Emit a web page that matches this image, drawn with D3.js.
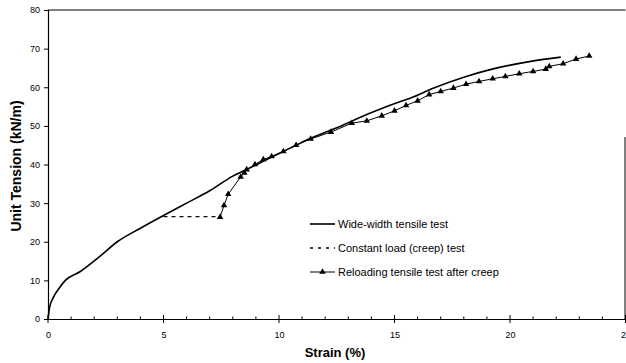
<!DOCTYPE html>
<html>
<head>
<meta charset="utf-8">
<script src="https://cdn.jsdelivr.net/npm/d3@7"></script>
<style>
  html, body { margin: 0; padding: 0; background: #fff; }
  svg { display: block; font-family: "Liberation Sans", Arial, sans-serif; }
</style>
</head>
<body>
<div id="chart"></div>
<script>
// Data (strain %, unit tension kN/m)
const wideStrain = [0, 0.07, 0.25, 0.45, 0.75, 1.4, 2.2, 3.0, 4.0, 5.0, 6.0, 7.0, 8.0, 8.6, 9.6, 10.5, 11.0, 12.5, 13.9, 15.2, 15.7, 16.7, 18.1, 19.1, 20.9, 22.2];
const wideTension = [0, 3, 5.8, 7.7, 10, 12.3, 16, 20, 23.5, 26.8, 30, 33.2, 37, 38.7, 41.7, 44.3, 45.8, 49.5, 53.2, 56.2, 57.2, 59.8, 62.8, 64.5, 66.7, 67.8];

const creepStrain = [5.0, 7.42];
const creepTension = [26.5, 26.5];

const reloadStrain = [7.45, 7.62, 7.8, 8.34, 8.5, 8.6, 8.96, 9.32, 9.68, 10.19, 10.74, 11.37, 12.25, 13.15, 13.8, 14.45, 15.0, 15.5, 16.0, 16.5, 17.0, 17.55, 18.1, 18.66, 19.25, 19.8, 20.4, 21.0, 21.55, 21.7, 22.3, 22.86, 23.43];
const reloadTension = [26.4, 29.4, 32.3, 36.8, 37.8, 38.7, 40.0, 41.3, 42.1, 43.4, 45.0, 46.6, 48.4, 50.7, 51.3, 52.6, 53.9, 55.3, 56.5, 58.1, 58.9, 59.8, 60.8, 61.5, 62.2, 62.8, 63.5, 64.1, 64.7, 65.4, 66.1, 67.3, 68.1];

const xTicks = [0, 5, 10, 15, 20, 25];
const yTicks = [0, 10, 20, 30, 40, 50, 60, 70, 80];

const legendLabels = ['Wide-width tensile test', 'Constant load (creep) test', 'Reloading tensile test after creep'];

const width = 626, height = 363;
const svg = d3.select('#chart').append('svg')
    .attr('width', width)
    .attr('height', height);

const x = d3.scaleLinear().domain([0, 25]).range([48, 625.5]);
const y = d3.scaleLinear().domain([0, 80]).range([319, 10]);

const zip = (xs, ys) => xs.map((v, i) => [v, ys[i]]);
const line = d3.line().x(d => x(d[0])).y(d => y(d[1]));
const smoothLine = d3.line().x(d => x(d[0])).y(d => y(d[1])).curve(d3.curveMonotoneX);

// frame: top and right
svg.append('line')
    .attr('x1', x(0)).attr('x2', x(25))
    .attr('y1', y(80)).attr('y2', y(80))
    .attr('stroke', '#000').attr('stroke-width', 1);
svg.append('line')
    .attr('x1', x(25) - 0.5).attr('x2', x(25) - 0.5)
    .attr('y1', 137).attr('y2', y(0))
    .attr('stroke', '#000').attr('stroke-width', 1);

// x axis
const xAxis = svg.append('g')
    .attr('transform', `translate(0,${y(0)})`)
    .call(d3.axisBottom(x).tickValues(xTicks).tickSize(0).tickPadding(13).tickFormat(d3.format('d')));
xAxis.select('.domain').attr('stroke', '#000').attr('stroke-width', 1.2);
xAxis.selectAll('text').style('font-size', '9px').attr('fill', '#000');

// minor and major ticks on x axis
svg.append('g').selectAll('line')
    .data(d3.range(0, 26))
    .enter().append('line')
    .attr('x1', d => x(d)).attr('x2', d => x(d))
    .attr('y1', d => d % 5 === 0 ? y(0) - 4 : y(0) - 2.5)
    .attr('y2', d => d % 5 === 0 ? y(0) + 4 : y(0))
    .attr('stroke', '#000').attr('stroke-width', 1);

// y axis
const yAxis = svg.append('g')
    .attr('transform', `translate(${x(0)},0)`)
    .call(d3.axisLeft(y).tickValues(yTicks).tickSize(4).tickPadding(4).tickFormat(d3.format('d')));
yAxis.select('.domain').attr('stroke', '#000').attr('stroke-width', 1.2);
yAxis.selectAll('line').attr('stroke', '#000');
yAxis.selectAll('text').style('font-size', '9px').attr('fill', '#000');

// axis titles
svg.append('text')
    .attr('x', 335).attr('y', 357)
    .attr('text-anchor', 'middle')
    .style('font-size', '13px').style('font-weight', 'bold')
    .text('Strain (%)');
svg.append('text')
    .attr('transform', `translate(21,${166}) rotate(-90)`)
    .attr('text-anchor', 'middle')
    .style('font-size', '14px').style('font-weight', 'bold')
    .text('Unit Tension (kN/m)');

// series
svg.append('path')
    .datum(zip(wideStrain, wideTension))
    .attr('d', smoothLine)
    .attr('fill', 'none').attr('stroke', '#000').attr('stroke-width', 1.6);

svg.append('path')
    .datum(zip(creepStrain, creepTension))
    .attr('d', line)
    .attr('fill', 'none').attr('stroke', '#000').attr('stroke-width', 1.4)
    .attr('stroke-dasharray', '4,4');

svg.append('path')
    .datum(zip(reloadStrain, reloadTension))
    .attr('d', line)
    .attr('fill', 'none').attr('stroke', '#000').attr('stroke-width', 1);

const tri = d3.symbol().type(d3.symbolTriangle).size(18);
svg.append('g').selectAll('path')
    .data(zip(reloadStrain, reloadTension))
    .enter().append('path')
    .attr('d', tri)
    .attr('transform', d => `translate(${x(d[0])},${y(d[1])})`)
    .attr('fill', '#000');

// legend
const legend = svg.append('g').attr('transform', 'translate(310,224)');
legendLabels.forEach((label, i) => {
    const g = legend.append('g').attr('transform', `translate(0,${i * 24})`);
    const ln = g.append('line')
        .attr('x1', 0).attr('x2', 25).attr('y1', 0).attr('y2', 0)
        .attr('stroke', '#000');
    if (i === 0) ln.attr('stroke-width', 1.6);
    if (i === 1) ln.attr('stroke-width', 1.4).attr('stroke-dasharray', '3,5');
    if (i === 2) {
        ln.attr('stroke-width', 1);
        g.append('path').attr('d', tri).attr('transform', 'translate(12.5,0)').attr('fill', '#000');
    }
    g.append('text')
        .attr('x', 28).attr('y', 0).attr('dy', '0.35em')
        .style('font-size', '11px')
        .text(label);
});
</script>
</body>
</html>
